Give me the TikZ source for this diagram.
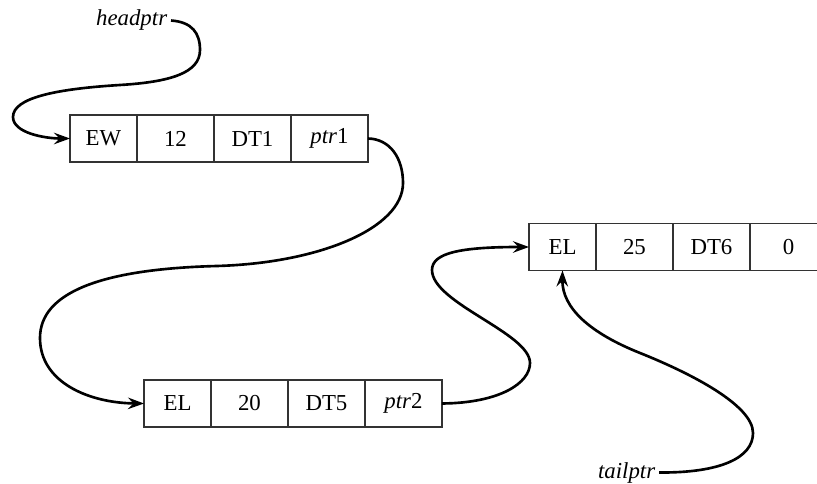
\documentclass[tikz,border=0pt]{standalone}
\usepackage{fontspec}
\setmainfont{Liberation Serif}
\usepackage{tikz}
\usetikzlibrary{positioning,arrows.meta}

\tikzset{
  cell/.style={draw=black!80, line width=0.8pt, minimum height=0.94cm,
    minimum width=1.54cm, inner sep=0pt, outer sep=0pt,
    font=\fontsize{13}{15}\selectfont},
  tagcell/.style={cell, minimum width=1.34cm},
  link/.style={line width=1.5pt, -{Stealth[length=3.2mm,width=2.3mm,inset=1.1mm]}},
  ptrname/.style={inner sep=2pt, font=\fontsize{13}{15}\selectfont\itshape}
}

\begin{document}
\begin{tikzpicture}[x=0.02cm, y=0.02cm]
  \useasboundingbox (0,0) rectangle (817,483);
  % record 1
  \node[tagcell, anchor=west] (ew) at (70,344.5) {EW};
  \node[cell, right=0pt of ew] (val12) {12};
  \node[cell, right=0pt of val12] (dt1) {DT1};
  \node[cell, right=0pt of dt1] (ptr1) {\textit{ptr}1};
  % record 3 (last one, null link)
  \node[tagcell, anchor=west] (el25) at (529,236) {EL};
  \node[cell, right=0pt of el25] (val25) {25};
  \node[cell, right=0pt of val25] (dt6) {DT6};
  \node[cell, right=0pt of dt6] (nil) {0};
  % record 2
  \node[tagcell, anchor=west] (el20) at (144,79.5) {EL};
  \node[cell, right=0pt of el20] (val20) {20};
  \node[cell, right=0pt of val20] (dt5) {DT5};
  \node[cell, right=0pt of dt5] (ptr2) {\textit{ptr}2};
  % head and tail pointers
  \node[ptrname, anchor=base east] (headptr) at (171,457) {headptr};
  \node[ptrname, anchor=base east] (tailptr) at (659,5) {tailptr};

  % links
  \draw[link] (headptr.east) .. controls (192,461) and (200,450) .. (200,433)
    .. controls (200,410) and (170,401) .. (120,398)
    .. controls (55,394) and (13,385) .. (13,366)
    .. controls (13,350) and (45,344.5) .. (ew.west);
  \draw[link] (ptr1.east) .. controls (390,344) and (403,325) .. (403,300)
    .. controls (403,255) and (320,220) .. (217,217)
    .. controls (100,214) and (40,190) .. (40,145)
    .. controls (40,100) and (90,80) .. (el20.west);
  \draw[link] (ptr2.east) .. controls (500,80) and (530,100) .. (530,120)
    .. controls (530,150) and (432,180) .. (432,213)
    .. controls (432,230) and (460,236) .. (el25.west);
  \draw[link] (tailptr.east) .. controls (720,10) and (753,25) .. (753,50)
    .. controls (753,78) and (690,110) .. (640,130)
    .. controls (590,150) and (562,175) .. (el25.south);
\end{tikzpicture}
\end{document}
